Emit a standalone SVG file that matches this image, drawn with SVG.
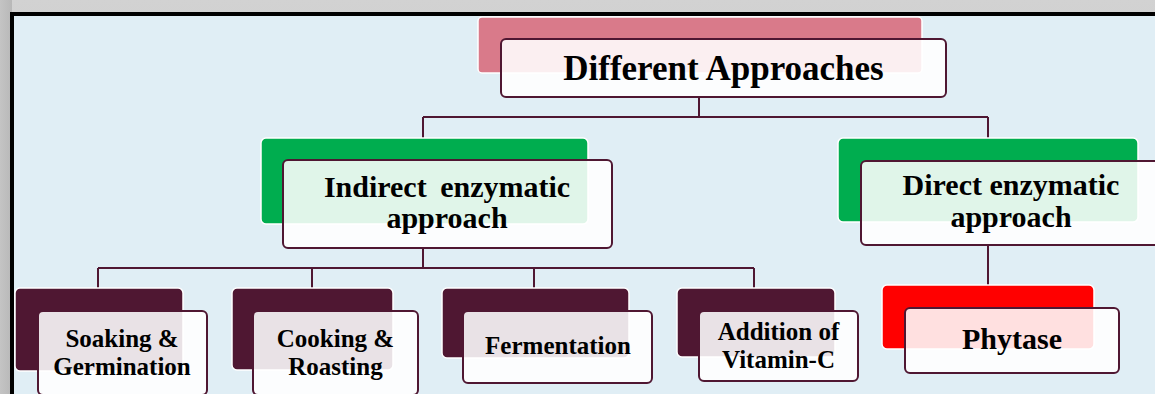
<svg xmlns="http://www.w3.org/2000/svg" width="1155" height="394" viewBox="0 0 1155 394">
<defs>
<linearGradient id="gv" x1="0" y1="0" x2="0" y2="1"><stop offset="0" stop-color="#d2d2d2"/><stop offset="1" stop-color="#bdbdbd"/></linearGradient>
<linearGradient id="gh" x1="0" y1="0" x2="1" y2="0"><stop offset="0" stop-color="#c4c4c4"/><stop offset="1" stop-color="#b8b8b8"/></linearGradient>
<style>
.back{stroke:#ffffff;stroke-width:1.5}
.front{fill:#ffffff;fill-opacity:0.88;stroke:#4f1732;stroke-width:2}
.conn{fill:none;stroke:#4f1732;stroke-width:2}
text{font-family:"Liberation Serif","Times New Roman",serif;font-weight:bold;fill:#000;text-anchor:middle}
.t1{font-size:35px}
.t2{font-size:30px}
.t3{font-size:25px}
</style>
</defs>
<rect x="0" y="0" width="1155" height="394" fill="url(#gv)"/>
<rect x="0" y="0" width="12" height="394" fill="url(#gh)"/>
<rect x="12" y="14" width="1150" height="390" fill="#e0eef5" stroke="#000" stroke-width="4"/>

<g id="connectors">
<path class="conn" d="M699 97 V117 M423 117 H988 M423 117 V138 M988 117 V138"/>
<path class="conn" d="M423 248 V268 M98 268 H754 M98 268 V288 M312 268 V288 M534 268 V288 M754 268 V288"/>
<path class="conn" d="M988 245 V285"/>
</g>

<g id="node-different">
<rect class="back" x="478" y="17" width="444" height="56" rx="4" fill="#d97a8a"/>
<rect class="front" x="501" y="39" width="445" height="58" rx="5"/>
<text class="t1" x="723.5" y="80">Different Approaches</text>
</g>

<g id="node-indirect">
<rect class="back" x="261" y="138" width="327" height="86" rx="5" fill="#00ad4f"/>
<rect class="front" x="283" y="160" width="329" height="88" rx="5"/>
<text class="t2" x="447" y="197" word-spacing="6">Indirect enzymatic</text>
<text class="t2" x="447" y="228">approach</text>
</g>

<g id="node-direct">
<rect class="back" x="838" y="138" width="300" height="84" rx="5" fill="#00ad4f"/>
<rect class="front" x="861" y="161" width="300" height="84" rx="5"/>
<text class="t2" x="1011" y="195">Direct enzymatic</text>
<text class="t2" x="1011" y="227">approach</text>
</g>

<g id="node-soaking">
<rect class="back" x="15" y="288" width="168" height="83" rx="5" fill="#4f1732"/>
<rect class="front" x="38" y="311" width="169" height="84" rx="5"/>
<text class="t3" x="122" y="347">Soaking &amp;</text>
<text class="t3" x="122" y="375">Germination</text>
</g>

<g id="node-cooking">
<rect class="back" x="232" y="288" width="161" height="82" rx="5" fill="#4f1732"/>
<rect class="front" x="253" y="311" width="165" height="84" rx="5"/>
<text class="t3" x="335.5" y="347">Cooking &amp;</text>
<text class="t3" x="335.5" y="375">Roasting</text>
</g>

<g id="node-fermentation">
<rect class="back" x="442" y="288" width="187" height="70" rx="5" fill="#4f1732"/>
<rect class="front" x="463" y="311" width="189" height="72" rx="5"/>
<text class="t3" x="558" y="354">Fermentation</text>
</g>

<g id="node-vitamin">
<rect class="back" x="677" y="288" width="158" height="69" rx="5" fill="#4f1732"/>
<rect class="front" x="699" y="311" width="159" height="70" rx="5"/>
<text class="t3" x="778.5" y="340">Addition of</text>
<text class="t3" x="778.5" y="368">Vitamin-C</text>
</g>

<g id="node-phytase">
<rect class="back" x="882" y="285" width="212" height="64" rx="5" fill="#ff0000"/>
<rect class="front" x="905" y="308" width="214" height="65" rx="5"/>
<text class="t2" x="1012" y="349">Phytase</text>
</g>
</svg>
